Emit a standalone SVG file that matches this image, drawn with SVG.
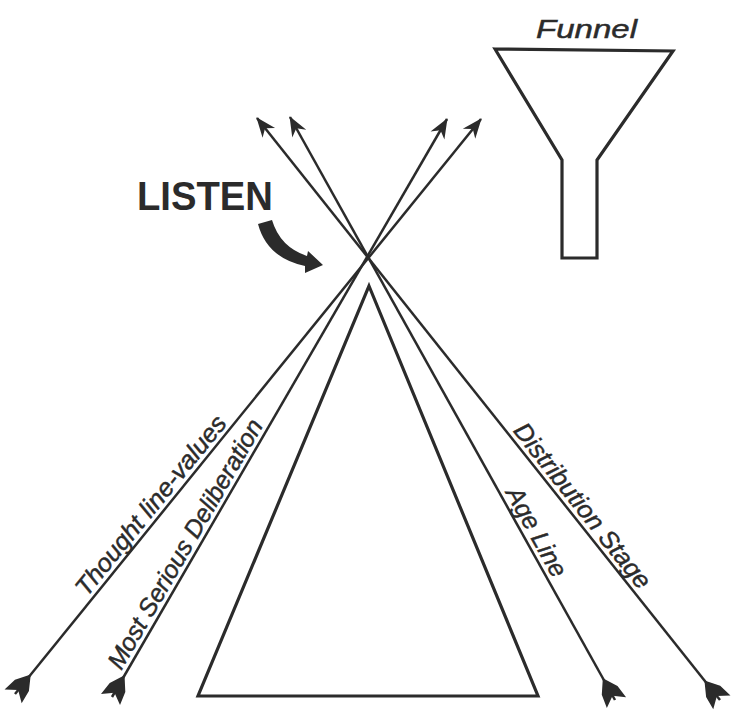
<svg xmlns="http://www.w3.org/2000/svg" width="732" height="712" viewBox="0 0 732 712">
<style>
.ln{stroke:#2b2b2b;stroke-width:2.5;fill:none}
.shape{stroke:#2b2b2b;stroke-width:3.2;fill:none;stroke-linejoin:miter}
.lbl{font-family:"Liberation Sans",Arial,sans-serif;font-style:italic;font-size:25px;fill:#2b2b2b;stroke:#2b2b2b;stroke-width:0.45}
.big{font-family:"Liberation Sans",Arial,sans-serif;font-weight:bold;font-size:41px;fill:#2b2b2b}
</style>
<defs>
<marker id="head" markerUnits="userSpaceOnUse" orient="auto" overflow="visible" markerWidth="1" markerHeight="1">
<path d="M1,0 L-19,-8 L-13,0 L-19,8 Z" fill="#2b2b2b"/>
</marker>
<marker id="fletch" markerUnits="userSpaceOnUse" orient="auto-start-reverse" overflow="visible" markerWidth="1" markerHeight="1">
<path d="M-25,0 L-11,-9 L3,-11 L-5,0 L3,11 L-11,9 Z" fill="#2b2b2b"/>
</marker>
</defs>
<rect width="732" height="712" fill="#ffffff"/>

<g id="funnel">
<polygon class="shape" points="495,49 673,51 597,160 597,258 562,258 562,160"/>
<text class="lbl" x="536" y="38" font-size="25" textLength="101" lengthAdjust="spacingAndGlyphs">Funnel</text>
</g>

<g id="triangle">
<polygon class="shape" points="369,286 538,696 198,696"/>
</g>

<g id="listen">
<text class="big" x="137" y="210" textLength="136" lengthAdjust="spacingAndGlyphs">LISTEN</text>
<path d="M258,224 L272,220 Q280,247 307,256 L308,251 L323,265 L305,273 L305,266 Q267,258 258,224 Z" fill="#2b2b2b"/>
</g>

<g id="connectors">
<line class="ln" x1="15" y1="694" x2="481" y2="119" marker-start="url(#fletch)" marker-end="url(#head)"/>
<line class="ln" x1="112" y1="697" x2="447" y2="119" marker-start="url(#fletch)" marker-end="url(#head)"/>
<line class="ln" x1="615" y1="700" x2="290" y2="117" marker-start="url(#fletch)" marker-end="url(#head)"/>
<line class="ln" x1="720" y1="700" x2="257" y2="118" marker-start="url(#fletch)" marker-end="url(#head)"/>
</g>

<g id="labels">
<text class="lbl" transform="translate(86.7,597.7) rotate(-50.97)" textLength="224" lengthAdjust="spacingAndGlyphs">Thought line-values</text>
<text class="lbl" transform="translate(121.2,671.1) rotate(-59.9)" textLength="284" lengthAdjust="spacingAndGlyphs">Most Serious Deliberation</text>
<text class="lbl" transform="translate(505.2,492.8) rotate(60.86)" textLength="99" lengthAdjust="spacingAndGlyphs">Age Line</text>
<text class="lbl" transform="translate(512.4,431.1) rotate(51.5)" textLength="204" lengthAdjust="spacingAndGlyphs">Distribution Stage</text>
</g>
</svg>
